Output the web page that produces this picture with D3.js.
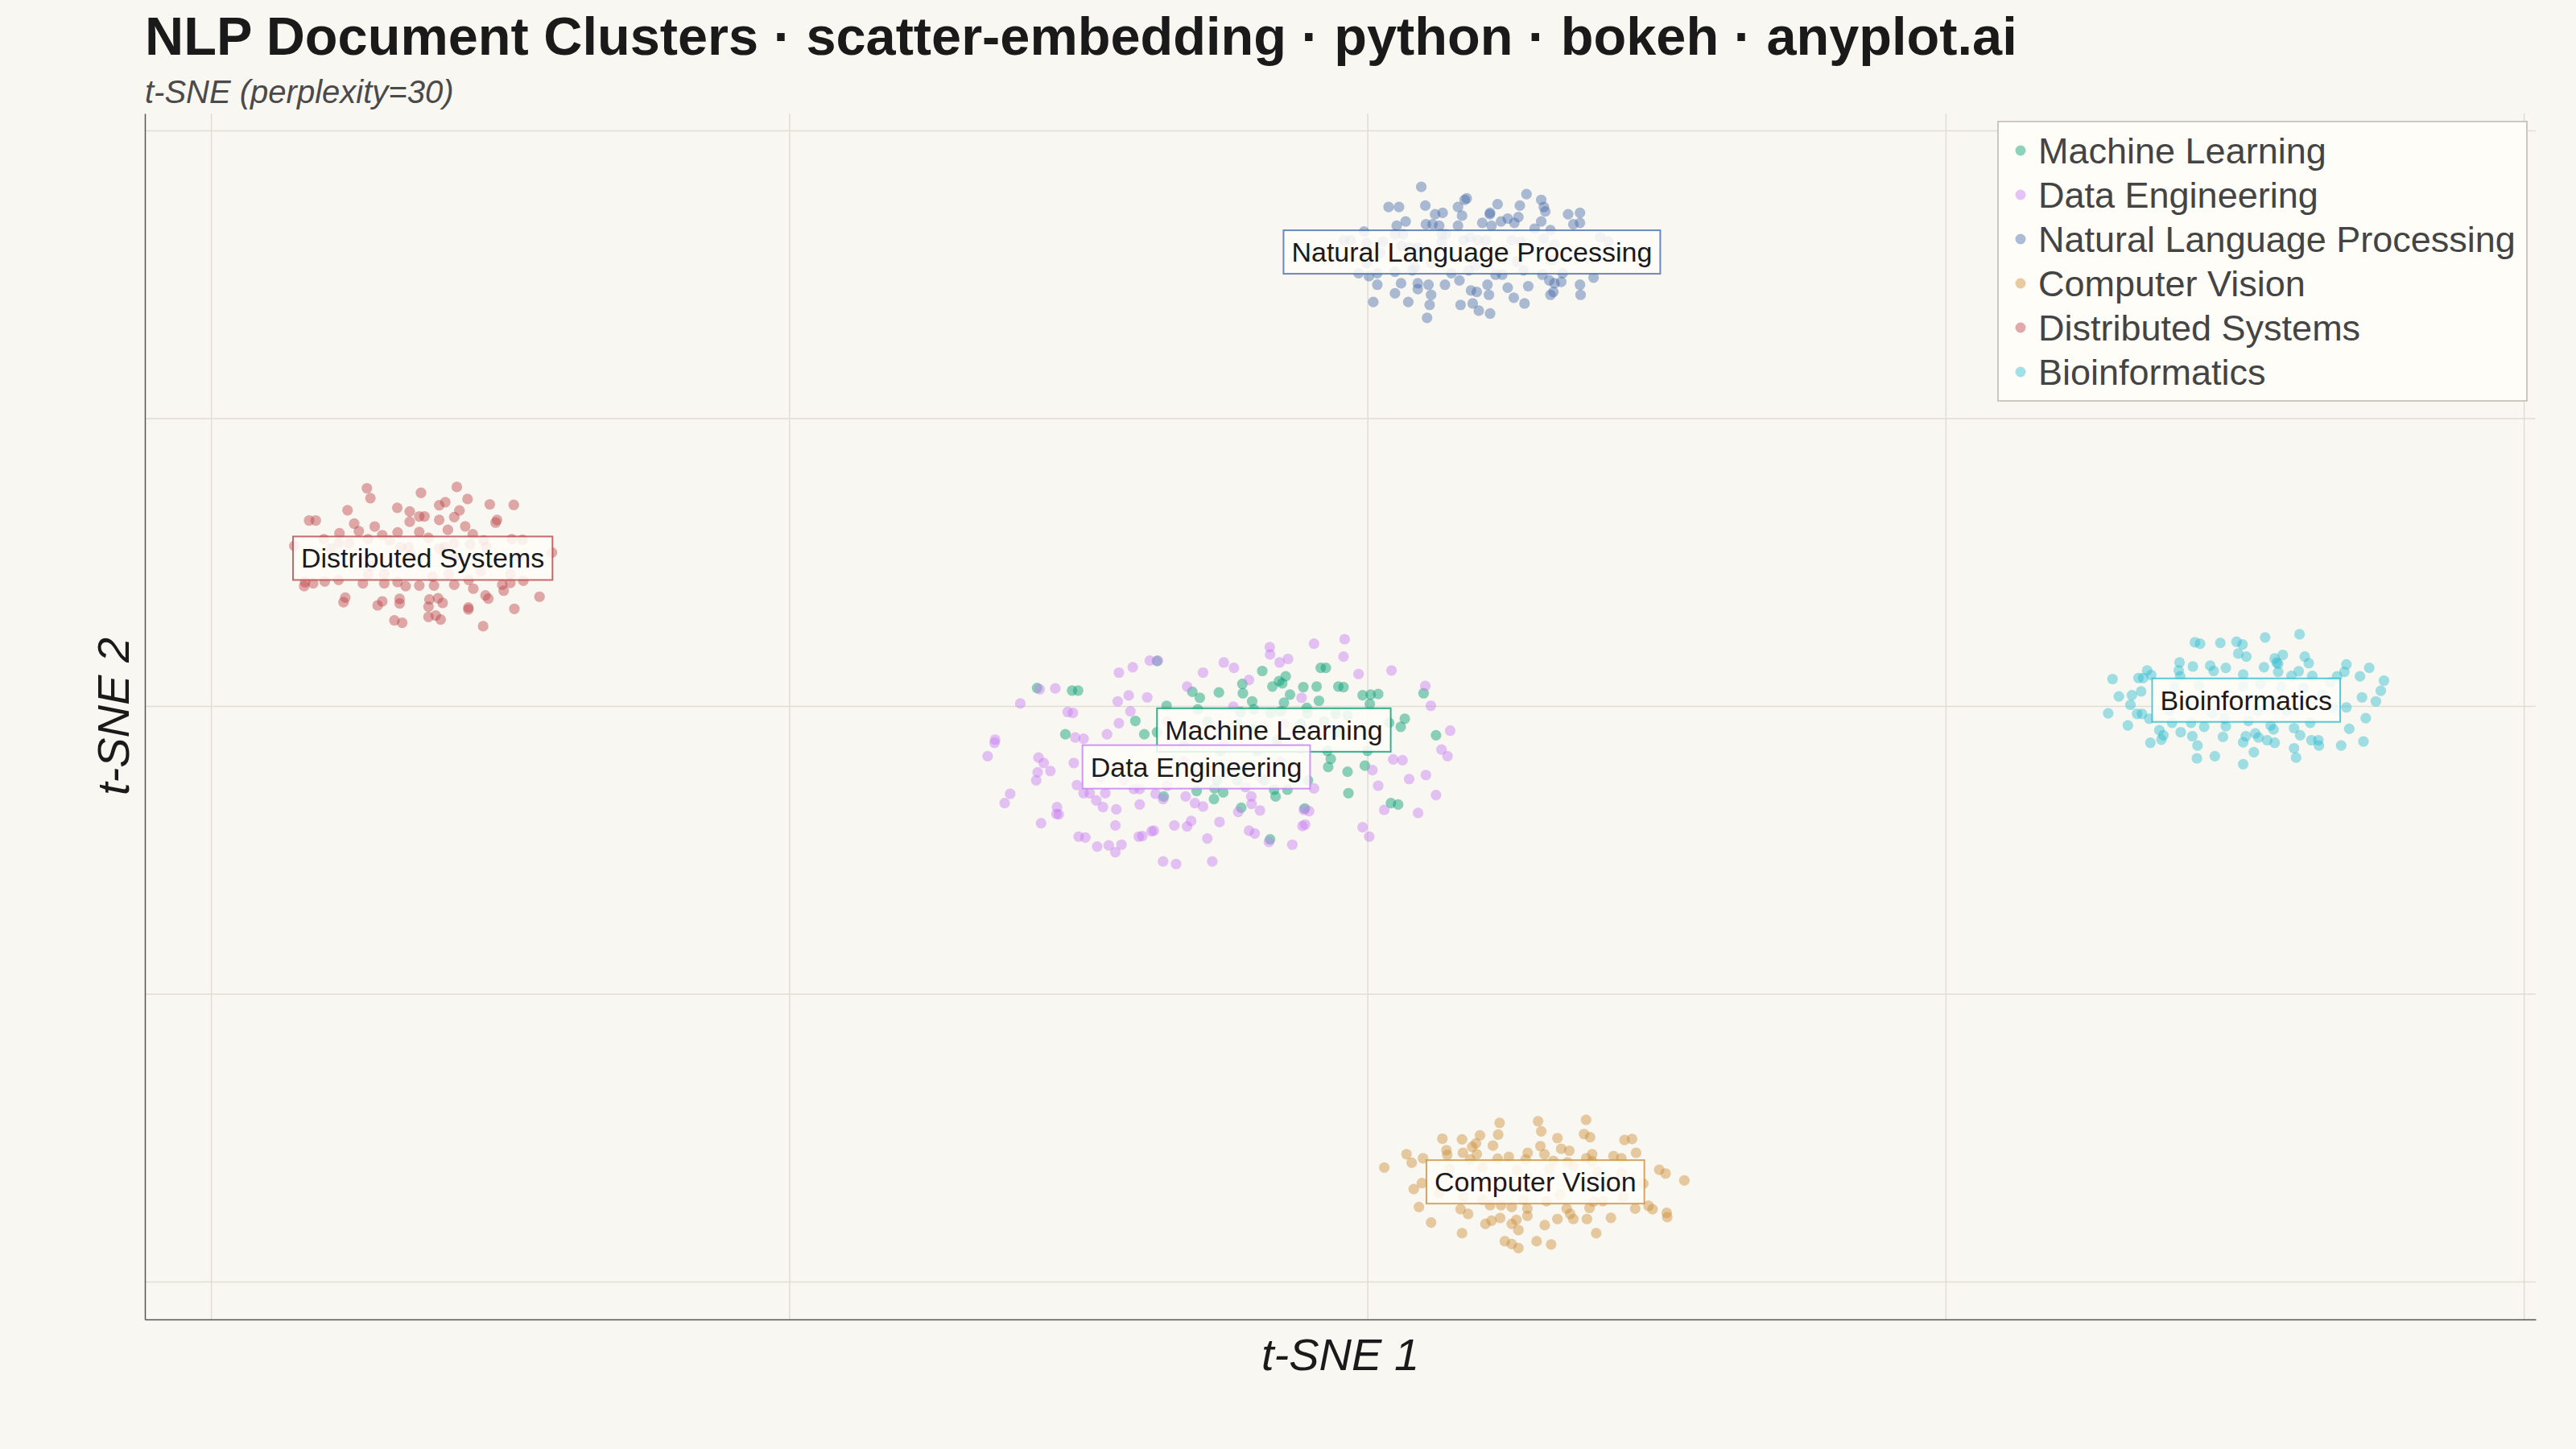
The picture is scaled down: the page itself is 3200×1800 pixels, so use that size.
<!DOCTYPE html>
<html>
<head>
<meta charset="utf-8">
<script src="https://cdn.jsdelivr.net/npm/d3@7"></script>
<style>
  html, body { margin: 0; padding: 0; background: #F9F7F1; }
  svg { display: block; }
</style>
</head>
<body>
<svg id="chart" width="3200" height="1800"></svg>
<script>
// t-SNE coordinates, one array per cluster
var categories = ["Machine Learning", "Data Engineering", "Natural Language Processing",
                  "Computer Vision", "Distributed Systems", "Bioinformatics"]
var colors = ["#009E73", "#C77CF5", "#476DAD", "#CC8E3A", "#BC4349", "#2FBDD0"]

var xTicks = [-40, -20, 0, 20, 40]
var yTicks = [-40, -20, 0, 20, 40]
var xDomain = [-42.3, 40.4]
var yDomain = [-42.6, 41.2]

var mlPoints = [[-11.44,1.28],[-10.23,1.10],[-10.02,1.10],[-7.29,3.15],[-6.96,0.04],[-8.04,-1.01],[-7.73,-1.94],[-10.46,-1.94],[-6.07,1.01],[-5.81,0.60],[-5.88,-0.20],[-5.15,0.97],[-4.34,1.56],[-4.32,0.91],[-3.65,2.46],[-3.30,1.38],[-3.07,1.75],[-2.84,2.09],[-2.96,1.60],[-2.69,0.82],[-2.90,0.26],[-4.00,0.35],[-3.94,-0.20],[-4.40,-0.39],[-3.36,-0.45],[-3.01,-0.34],[-2.23,1.34],[-1.77,1.38],[-1.63,2.68],[-1.45,2.68],[-1.02,1.38],[-0.84,1.34],[-1.69,0.39],[-2.11,-0.11],[-2.09,-0.48],[-1.11,-0.52],[-0.70,-0.63],[-0.18,0.78],[0.10,0.82],[0.36,0.86],[0.07,0.17],[0.74,-1.14],[1.14,-1.42],[1.28,-0.86],[1.93,0.91],[2.36,-2.01],[-1.37,-4.21],[-1.28,-3.65],[-0.70,-4.54],[-0.10,-4.12],[-0.67,-6.03],[0.80,-6.72],[1.05,-6.82],[-2.07,-5.14],[-3.24,-5.79],[-3.19,-6.26],[-2.78,-5.79],[-3.38,-9.24],[-4.38,-7.04],[-5.32,-6.44],[-5.30,-5.70],[-5.00,-5.98],[-5.92,-5.88],[-7.06,-6.26],[-2.18,-7.09],[-5.21,-5.14],[-3.59,-5.14],[-4.51,-5.14],[-7.29,-1.79],[-5.55,-1.04],[-4.51,-1.23],[-3.94,-1.60],[-2.32,-1.23],[-1.51,-1.04],[-1.05,-1.79],[-1.40,-3.09],[-2.32,-2.91],[-3.82,-3.09],[-5.09,-3.09],[-6.36,-2.72],[-3.13,-2.35],[-0.01,-3.09]]

var dePoints = [[-11.35,1.19],[-10.81,1.25],[-12.02,0.20],[-8.61,2.35],[-8.13,2.72],[-7.54,3.18],[-7.26,3.18],[-8.27,0.76],[-7.63,0.63],[-8.65,0.35],[-10.38,-0.39],[-10.20,-0.45],[-8.21,-0.34],[-8.61,-1.17],[-9.02,-1.94],[-10.12,-2.16],[-9.83,-2.25],[-12.89,-2.31],[-12.91,-2.53],[-13.15,-3.46],[-11.39,-3.56],[-11.21,-3.93],[-10.98,-4.49],[-11.42,-4.58],[-11.47,-5.14],[-10.17,-3.93],[-10.06,-5.47],[-9.83,-6.03],[-9.62,-6.03],[-9.08,-6.03],[-9.39,-6.54],[-9.16,-7.00],[-8.70,-7.15],[-12.37,-6.07],[-12.56,-6.72],[-10.75,-7.00],[-10.77,-7.47],[-10.69,-7.50],[-11.30,-8.12],[-10.00,-9.05],[-9.77,-9.11],[-9.36,-9.74],[-8.96,-9.66],[-8.52,-9.61],[-8.73,-10.13],[-8.73,-8.27],[-8.09,-5.74],[-7.89,-5.74],[-7.89,-6.82],[-7.92,-9.05],[-7.80,-9.01],[-7.48,-8.68],[-7.40,-8.64],[-7.08,-10.78],[-6.63,-10.95],[-5.38,-10.78],[-6.69,-8.27],[-6.25,-8.34],[-6.11,-7.97],[-5.13,-8.03],[-5.55,-9.18],[-7.08,-6.44],[-7.34,-6.07],[-6.30,-6.26],[-5.98,-6.72],[-5.70,-6.96],[-6.94,-5.51],[-6.25,1.38],[-5.70,2.35],[-4.98,3.05],[-4.63,2.68],[-4.65,-0.02],[-4.11,1.84],[-3.39,4.12],[-3.38,3.61],[-3.05,3.05],[-2.76,3.30],[-2.29,0.60],[-1.86,4.36],[-0.84,3.46],[-0.80,4.67],[-0.32,2.25],[0.82,2.50],[1.99,1.42],[2.18,0.04],[2.85,-1.69],[2.55,-3.00],[2.76,-3.46],[2.01,-4.77],[1.43,-5.05],[2.36,-6.16],[1.74,-7.41],[0.57,-7.19],[0.36,-5.51],[0.16,-4.43],[0.88,-3.69],[1.20,-3.74],[-0.18,-8.40],[0.05,-9.05],[-2.26,-8.31],[-2.17,-8.21],[-2.61,-9.61],[-2.21,-7.19],[-2.03,-7.28],[-1.86,-5.70],[-4.11,-8.64],[-3.91,-8.83],[-3.42,-9.42],[-4.48,-7.34],[-4.03,-6.26],[-4.02,-6.78],[-3.73,-7.23],[-4.23,-5.61],[-4.98,-2.63],[-2.90,-1.23],[-6.94,-1.04],[-5.90,-4.58],[-3.71,-4.95],[-9.25,-4.95],[-8.44,-5.14],[-6.36,-3.84],[-4.63,-4.21],[-3.01,-3.84]]

var nlpPoints = [[1.85,36.1],[0.72,34.7],[1.08,34.7],[1.99,34.8],[3.42,35.3],[3.35,35.2],[3.12,34.7],[4.49,34.9],[5.49,35.6],[6.0,35.2],[5.26,34.8],[6.09,34.7],[6.14,34.4],[2.33,34.2],[2.59,34.3],[3.26,34.1],[4.23,34.3],[4.22,34.2],[4.61,33.7],[4.84,33.9],[5.07,33.6],[5.21,34.0],[6.0,33.7],[6.93,34.2],[7.34,34.3],[7.34,33.6],[7.11,33.5],[1.31,33.7],[1.0,33.4],[2.01,33.5],[2.24,33.5],[2.47,33.4],[3.12,33.4],[3.96,33.6],[4.28,33.4],[5.77,33.2],[6.32,33.1],[-0.13,33.0],[-0.83,32.4],[-0.59,32.4],[-0.04,32.2],[0.52,32.3],[0.94,32.8],[1.22,32.8],[2.56,32.8],[2.70,32.8],[3.31,32.4],[3.54,32.6],[3.82,32.4],[4.09,32.4],[4.98,32.4],[5.30,32.3],[6.09,32.5],[6.46,32.1],[8.04,32.6],[8.32,32.3],[0.43,31.5],[1.45,31.9],[1.73,31.9],[2.56,32.3],[1.17,32.0],[-0.32,30.1],[0.04,29.9],[0.33,30.1],[-0.04,30.8],[0.94,30.2],[1.54,30.3],[1.63,30.5],[2.19,30.8],[2.89,30.1],[3.49,30.3],[3.72,30.6],[4.42,30.0],[4.65,30.0],[5.16,30.9],[5.39,30.3],[6.04,30.0],[6.28,29.6],[6.46,29.4],[6.69,29.5],[6.74,30.1],[6.37,31.0],[7.34,29.3],[7.81,29.8],[0.33,29.3],[1.15,29.4],[1.73,29.4],[1.73,29.0],[2.10,29.3],[2.19,28.6],[2.67,29.3],[3.17,29.6],[3.57,28.9],[3.77,28.8],[4.14,29.3],[4.19,28.6],[4.84,29.1],[5.55,29.2],[5.05,28.4],[0.19,28.1],[0.94,28.7],[1.40,28.1],[2.14,27.9],[3.21,27.9],[3.63,28.0],[3.84,27.5],[4.23,27.3],[5.42,28.0],[2.05,27.0],[6.32,28.6],[6.42,28.8],[7.36,28.6]]

var cvPoints = [[4.56,-28.94],[5.89,-28.83],[7.55,-28.73],[6.00,-29.53],[7.48,-29.72],[7.69,-29.94],[4.51,-29.76],[3.88,-29.81],[2.58,-30.04],[3.26,-30.09],[3.74,-30.37],[3.61,-30.61],[4.33,-30.52],[6.56,-30.0],[8.88,-30.13],[9.14,-30.06],[1.34,-31.12],[1.52,-31.71],[1.91,-31.40],[2.72,-30.84],[2.75,-31.17],[3.29,-31.02],[3.77,-31.12],[3.54,-31.49],[4.49,-31.43],[4.88,-31.30],[5.53,-31.02],[5.46,-31.49],[5.97,-30.56],[6.11,-31.12],[6.69,-30.74],[6.97,-30.88],[6.42,-31.58],[6.91,-31.68],[7.56,-31.40],[7.76,-31.12],[7.76,-31.62],[8.50,-31.25],[8.77,-31.40],[9.28,-31.02],[0.57,-32.05],[10.08,-32.20],[10.30,-32.46],[10.95,-32.94],[1.59,-33.54],[1.87,-33.13],[9.53,-33.17],[1.77,-34.79],[3.21,-34.94],[3.47,-35.27],[2.19,-35.87],[3.26,-36.61],[4.07,-35.96],[4.28,-35.74],[4.58,-35.55],[4.98,-35.96],[5.14,-35.68],[5.21,-36.39],[5.52,-35.40],[5.52,-34.90],[4.98,-34.79],[4.61,-34.66],[4.23,-34.66],[6.12,-36.05],[6.56,-35.62],[6.88,-34.90],[7.11,-35.62],[7.00,-35.27],[7.58,-35.62],[7.67,-34.85],[7.90,-36.61],[8.41,-35.54],[9.25,-34.90],[9.71,-34.71],[9.85,-34.94],[10.34,-35.20],[10.36,-35.49],[4.74,-37.17],[4.98,-37.36],[5.21,-37.64],[5.84,-37.17],[6.34,-37.39],[5.39,-34.28],[6.18,-34.38],[7.81,-34.41],[8.13,-34.38],[8.83,-34.09],[6.65,-33.91],[3.96,-34.28],[3.31,-34.09],[2.47,-33.82],[2.84,-32.14],[3.96,-32.05],[5.16,-32.23],[6.28,-32.14],[7.11,-31.96],[7.95,-32.33],[8.78,-32.42]]

var dsPoints = [[-34.62,15.16],[-34.50,14.47],[-32.75,14.84],[-31.51,15.25],[-31.14,14.41],[-32.12,13.98],[-31.91,14.19],[-30.37,14.04],[-29.54,14.0],[-35.29,13.63],[-36.62,12.92],[-36.39,12.92],[-33.57,13.80],[-33.14,13.54],[-32.81,13.20],[-32.63,13.20],[-33.14,12.83],[-32.12,12.96],[-31.60,13.15],[-31.42,13.61],[-30.12,12.96],[-30.17,12.77],[-35.06,12.70],[-34.90,12.18],[-34.35,12.50],[-33.56,12.09],[-32.81,12.12],[-31.82,12.27],[-31.22,12.51],[-30.96,11.96],[-35.57,12.03],[-36.11,11.62],[-34.09,11.90],[-32.49,11.71],[-37.13,11.15],[-30.58,11.53],[-29.61,11.62],[-29.24,11.58],[-28.22,10.69],[-29.38,10.41],[-36.76,8.64],[-36.48,8.55],[-36.08,8.68],[-35.60,8.79],[-34.76,8.55],[-34.02,8.55],[-33.56,8.64],[-33.28,8.36],[-32.81,8.40],[-32.30,8.40],[-31.10,8.79],[-30.94,8.18],[-29.94,8.45],[-29.66,8.58],[-29.21,8.73],[-36.79,8.36],[-35.37,7.56],[-35.43,7.24],[-34.09,7.30],[-34.25,7.02],[-33.49,7.47],[-33.49,7.15],[-32.46,7.43],[-32.16,7.52],[-32.00,7.19],[-32.49,6.93],[-30.52,7.71],[-30.42,7.49],[-28.65,7.62],[-29.89,8.04],[-29.52,6.78],[-31.11,6.87],[-31.11,6.74],[-32.49,6.22],[-32.24,6.31],[-32.07,6.03],[-33.67,5.98],[-33.40,5.81],[-30.60,5.57],[-31.60,8.45],[-34.58,9.16],[-29.66,9.20],[-31.93,11.06],[-33.18,11.06],[-35.23,11.34],[-35.88,10.97],[-35.60,11.34],[-34.58,11.62],[-33.83,11.53],[-33.46,11.06],[-32.12,10.97],[-31.60,11.34],[-31.05,11.25],[-30.49,11.06],[-32.35,9.01],[-31.79,9.20],[-30.68,9.39],[-34.02,9.20],[-34.49,9.76],[-33.09,10.50],[-31.60,10.32]]

var bioPoints = [[32.23,5.01],[31.04,4.79],[28.61,4.45],[28.79,4.36],[29.49,4.41],[30.05,4.49],[30.26,4.30],[30.11,3.67],[30.39,3.46],[31.65,3.58],[31.37,3.33],[31.44,3.05],[31.49,2.96],[32.41,3.46],[32.55,3.0],[28.08,3.05],[28.54,2.77],[29.14,2.83],[29.26,2.46],[29.68,2.68],[31.00,2.72],[26.96,2.50],[27.10,2.18],[28.05,2.50],[28.10,2.09],[30.28,2.22],[31.49,2.40],[32.20,2.44],[32.67,2.12],[33.85,2.91],[33.78,2.40],[34.64,2.68],[34.32,2.09],[33.53,2.09],[35.15,1.79],[25.76,1.90],[26.66,1.97],[26.82,1.97],[31.95,2.12],[35.04,1.08],[34.39,0.63],[34.87,0.35],[25.98,0.69],[26.43,0.78],[26.75,1.04],[26.38,0.11],[25.61,-0.48],[26.61,-0.52],[26.78,-0.52],[27.03,-0.86],[26.29,-1.32],[33.85,-0.07],[34.52,-0.82],[33.95,-1.56],[33.67,-2.72],[34.44,-2.44],[27.38,-1.66],[27.52,-2.01],[27.45,-2.31],[27.07,-2.53],[28.12,-1.79],[28.52,-2.07],[28.70,-2.72],[28.93,-1.42],[29.68,-1.38],[29.58,-2.12],[30.28,-2.50],[30.37,-2.07],[30.70,-1.88],[30.81,-2.16],[31.11,-2.35],[31.33,-1.60],[31.37,-2.53],[32.04,-1.51],[32.25,-2.01],[32.60,-1.14],[32.64,-2.35],[32.88,-2.35],[32.90,-2.72],[32.04,-2.91],[32.11,-3.56],[30.65,-3.18],[30.28,-4.02],[29.30,-3.46],[28.68,-3.61],[27.82,-1.14],[28.48,-1.14],[30.46,-1.01],[31.23,-1.32],[29.63,-0.86],[33.30,1.66],[33.39,-0.11],[33.02,0.82],[27.91,1.38],[28.75,1.47],[30.28,1.38],[30.88,1.56],[31.60,1.38],[32.37,1.28],[27.73,-0.30],[29.21,-0.48],[30.79,-0.30],[31.78,-0.30]]

var clusterPoints = [mlPoints, dePoints, nlpPoints, cvPoints, dsPoints, bioPoints]

var titleText = "NLP Document Clusters · scatter-embedding · python · bokeh · anyplot.ai"
var subtitleText = "t-SNE (perplexity=30)"
var xLabel = "t-SNE 1"
var yLabel = "t-SNE 2"

var FONT = "'Liberation Sans', Arial, Helvetica, sans-serif"
var plotLeft = 180, plotRight = 3150, plotTop = 141, plotBottom = 1639

var svg = d3.select("#chart")

var x = d3.scaleLinear().domain(xDomain).range([plotLeft, plotRight])
var y = d3.scaleLinear().domain(yDomain).range([plotBottom, plotTop])

// grid
svg.append("g").selectAll("line").data(xTicks).join("line")
    .attr("x1", d => x(d)).attr("x2", d => x(d))
    .attr("y1", plotTop).attr("y2", plotBottom)
    .attr("stroke", "#e0ddd5").attr("stroke-width", 1.5)
svg.append("g").selectAll("line").data(yTicks).join("line")
    .attr("x1", plotLeft).attr("x2", plotRight)
    .attr("y1", d => y(d)).attr("y2", d => y(d))
    .attr("stroke", "#e0ddd5").attr("stroke-width", 1.5)

// axes: plain lines, no ticks or tick labels
var xAxis = d3.axisBottom(x).tickValues([]).tickSize(0).tickSizeOuter(0)
var yAxis = d3.axisLeft(y).tickValues([]).tickSize(0).tickSizeOuter(0)
svg.append("g").attr("transform", "translate(0," + plotBottom + ")").call(xAxis)
    .select(".domain").attr("stroke", "#555").attr("stroke-width", 1.5)
svg.append("g").attr("transform", "translate(" + plotLeft + ",0)").call(yAxis)
    .select(".domain").attr("stroke", "#555").attr("stroke-width", 1.5)

// points
clusterPoints.forEach(function(pts, i) {
    svg.append("g").selectAll("circle").data(pts).join("circle")
        .attr("cx", d => x(d[0])).attr("cy", d => y(d[1]))
        .attr("r", 6.6)
        .attr("fill", colors[i]).attr("fill-opacity", 0.45)
})

// cluster labels at centroids
clusterPoints.forEach(function(pts, i) {
    var cx = x(d3.mean(pts, d => d[0]))
    var cy = y(d3.mean(pts, d => d[1]))
    var g = svg.append("g")
    var rect = g.append("rect")
    var t = g.append("text")
        .attr("x", cx).attr("y", cy)
        .attr("text-anchor", "middle").attr("dominant-baseline", "central")
        .attr("font-family", FONT).attr("font-size", 34).attr("fill", "#1a1a1a")
        .text(categories[i])
    var bb = t.node().getBBox()
    rect.attr("x", bb.x - 10).attr("y", cy - 27)
        .attr("width", bb.width + 20).attr("height", 54)
        .attr("fill", "#FFFDF8").attr("fill-opacity", 0.85)
        .attr("stroke", colors[i]).attr("stroke-opacity", 0.8).attr("stroke-width", 2)
})

// legend
var lg = svg.append("g")
lg.append("rect").attr("x", 2482).attr("y", 151).attr("width", 657).attr("height", 347)
    .attr("fill", "#FFFDF7").attr("stroke", "#bbb8ae").attr("stroke-width", 1.5)
categories.forEach(function(c, i) {
    var ry = 187 + i * 55
    lg.append("circle").attr("cx", 2510).attr("cy", ry).attr("r", 6.5)
        .attr("fill", colors[i]).attr("fill-opacity", 0.45)
    lg.append("text").attr("x", 2532).attr("y", ry)
        .attr("dominant-baseline", "central")
        .attr("font-family", FONT).attr("font-size", 45).attr("fill", "#444")
        .text(c)
})

// titles
svg.append("text").attr("x", plotLeft).attr("y", 68)
    .attr("font-family", FONT).attr("font-size", 66.7).attr("font-weight", "bold")
    .attr("fill", "#1a1a1a").text(titleText)
svg.append("text").attr("x", plotLeft).attr("y", 128)
    .attr("font-family", FONT).attr("font-size", 40).attr("font-style", "italic")
    .attr("fill", "#4a4a4a").text(subtitleText)

svg.append("text").attr("x", (plotLeft + plotRight) / 2).attr("y", 1702)
    .attr("text-anchor", "middle")
    .attr("font-family", FONT).attr("font-size", 56).attr("font-style", "italic")
    .attr("fill", "#1a1a1a").text(xLabel)
svg.append("text")
    .attr("transform", "translate(160," + (plotTop + plotBottom) / 2 + ") rotate(-90)")
    .attr("text-anchor", "middle")
    .attr("font-family", FONT).attr("font-size", 56).attr("font-style", "italic")
    .attr("fill", "#1a1a1a").text(yLabel)
</script>
</body>
</html>
